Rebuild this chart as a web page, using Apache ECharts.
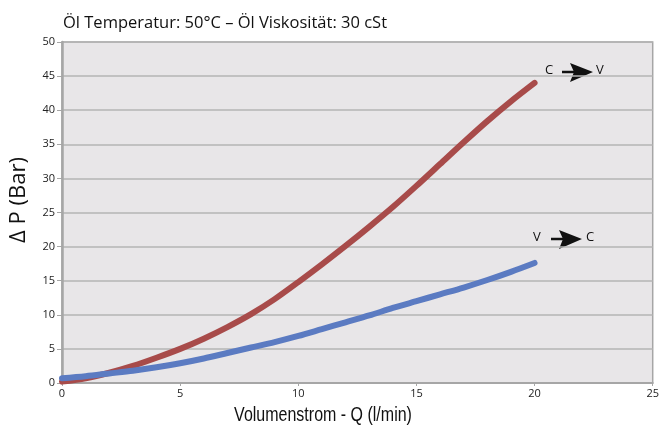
<!DOCTYPE html>
<html>
<head>
<meta charset="utf-8">
<script src="https://cdn.jsdelivr.net/npm/echarts@6/dist/echarts.min.js"></script>
<style>
  html, body { margin: 0; padding: 0; background: #fff; }
  #chart { width: 662px; height: 430px; }
</style>
</head>
<body>
<div id="chart"></div>
<script>
// Volumenstrom Q (l/min)
var flow = [0, 1, 2, 3, 4, 5, 6, 7, 8, 9, 10, 11, 12, 13, 14, 15, 16, 17, 18, 19, 20];
// Druckverlust C -> V
var lossCV = [0.2, 0.7, 1.5, 2.5, 3.7, 5.0, 6.5, 8.2, 10.1, 12.3, 14.8, 17.4, 20.1, 22.9, 25.8, 28.9, 32.1, 35.3, 38.4, 41.3, 44.0];
// Druckverlust V -> C
var lossVC = [0.7, 1.0, 1.4, 1.8, 2.3, 2.9, 3.6, 4.4, 5.2, 6.0, 6.9, 7.9, 8.9, 9.9, 11.0, 12.0, 13.0, 14.0, 15.1, 16.3, 17.6];

var xTicks = [0, 5, 10, 15, 20, 25];
var yTicks = [0, 5, 10, 15, 20, 25, 30, 35, 40, 45, 50];

var chart = echarts.init(document.getElementById('chart'));

function pairs(ys) {
    return flow.map(function (x, i) { return [x, ys[i]]; });
}

var axisColor = '#a6a6a6';
var font = '"Open Sans", "Noto Sans", sans-serif';

var option = {
    animation: false,
    title: {
        text: 'Öl Temperatur: 50°C – Öl Viskosität: 30 cSt',
        left: 58,
        top: 10,
        textStyle: { fontFamily: font, fontSize: 16.5, fontWeight: 'normal', color: '#111' }
    },
    grid: {
        left: 62, right: 5, top: 42, bottom: 47,
        show: true,
        backgroundColor: '#e8e6e8',
        borderColor: axisColor,
        borderWidth: 1.5
    },
    xAxis: {
        type: 'value',
        min: xTicks[0],
        max: xTicks[xTicks.length - 1],
        interval: 5,
        axisLine: { show: true, lineStyle: { color: axisColor, width: 2 } },
        axisTick: { show: true, length: 3, lineStyle: { color: axisColor } },
        axisLabel: { fontFamily: font, fontSize: 11, color: '#222', margin: 5 },
        splitLine: { show: false }
    },
    yAxis: {
        type: 'value',
        min: yTicks[0],
        max: yTicks[yTicks.length - 1],
        interval: 5,
        axisLine: { show: true, lineStyle: { color: axisColor, width: 2.5 } },
        axisTick: { show: true, length: 5, lineStyle: { color: axisColor } },
        axisLabel: { fontFamily: font, fontSize: 11, color: '#222', margin: 7 },
        splitLine: { show: true, lineStyle: { color: '#b4b4b4', width: 1.5 } }
    },
    series: [
        {
            name: 'C > V',
            type: 'line',
            data: pairs(lossCV),
            smooth: 0.3,
            showSymbol: false,
            lineStyle: { color: '#a84b4a', width: 6, cap: 'round' }
        },
        {
            name: 'V > C',
            type: 'line',
            data: pairs(lossVC),
            smooth: 0.3,
            showSymbol: false,
            lineStyle: { color: '#5b7bc2', width: 6, cap: 'round' }
        }
    ],
    graphic: [
        // Achsentitel
        {
            type: 'text', x: 323, y: 415, scaleX: 0.8,
            style: { text: 'Volumenstrom - Q (l/min)', font: '20px "Liberation Sans"', fill: '#111', align: 'center', verticalAlign: 'middle' }
        },
        {
            type: 'text', x: 19, y: 200, rotation: Math.PI / 2,
            style: { text: 'Δ P (Bar)', font: '22px "Open Sans"', fill: '#111', align: 'center', verticalAlign: 'middle' }
        },
        // C -> V
        { type: 'text', left: 545, top: 64, style: { text: 'C', font: '13px "Open Sans"', fill: '#111' } },
        { type: 'line', shape: { x1: 562, y1: 72, x2: 575, y2: 72 }, style: { stroke: '#111', lineWidth: 2.5 } },
        { type: 'polygon', shape: { points: [[570, 63], [593, 72], [570, 82], [574, 72]] }, style: { fill: '#111' } },
        { type: 'text', left: 596, top: 64, style: { text: 'V', font: '13px "Open Sans"', fill: '#111' } },
        // V -> C
        { type: 'text', left: 533, top: 231, style: { text: 'V', font: '13px "Open Sans"', fill: '#111' } },
        { type: 'line', shape: { x1: 551, y1: 239, x2: 564, y2: 239 }, style: { stroke: '#111', lineWidth: 2.5 } },
        { type: 'polygon', shape: { points: [[559, 230], [582, 239], [559, 249], [563, 239]] }, style: { fill: '#111' } },
        { type: 'text', left: 586, top: 231, style: { text: 'C', font: '13px "Open Sans"', fill: '#111' } }
    ]
};

chart.setOption(option);
</script>
</body>
</html>
